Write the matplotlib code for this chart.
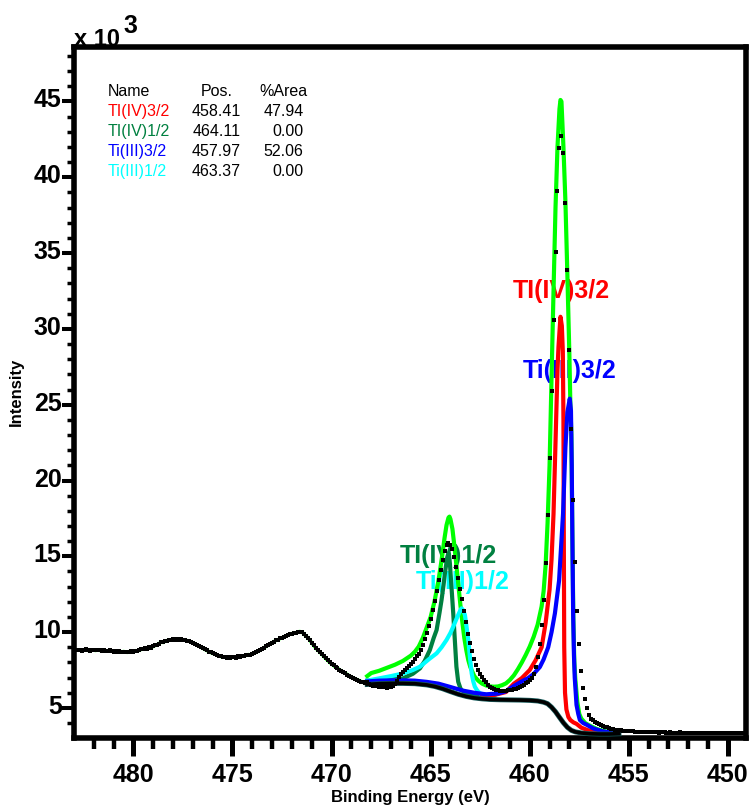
import numpy as np
import matplotlib
matplotlib.use("Agg")
import matplotlib.pyplot as plt
from matplotlib.ticker import MultipleLocator
import matplotlib.transforms as mtransforms

plt.rcParams['font.family'] = ['Liberation Sans', 'DejaVu Sans']

# measured Ti 2p spectrum, 0.1 eV steps from 482.9 down to 449.1 eV (counts x 1000)
be = np.round(np.arange(4829, 4490, -1) / 10.0, 1)
counts = np.array([
    8.85, 8.80, 8.84, 8.78, 8.82, 8.86, 8.80, 8.77, 8.83, 8.81,   # 482.9
    8.79, 8.84, 8.80, 8.76, 8.82, 8.78, 8.74, 8.80, 8.76, 8.72,   # 481.9
    8.75, 8.70, 8.74, 8.68, 8.72, 8.70, 8.66, 8.72, 8.76, 8.71,   # 480.9
    8.78, 8.74, 8.82, 8.86, 8.90, 8.96, 8.92, 9.04, 8.98, 9.06,   # 479.9
    9.12, 9.18, 9.24, 9.36, 9.32, 9.40, 9.44, 9.50, 9.46, 9.52,   # 478.9
    9.50, 9.54, 9.50, 9.52, 9.48, 9.50, 9.44, 9.40, 9.36, 9.30,   # 477.9
    9.24, 9.16, 9.10, 9.02, 8.94, 8.86, 8.80, 8.72, 8.66, 8.60,   # 476.9
    8.56, 8.50, 8.44, 8.40, 8.36, 8.38, 8.32, 8.36, 8.30, 8.34,   # 475.9
    8.36, 8.32, 8.40, 8.38, 8.44, 8.42, 8.48, 8.52, 8.50, 8.58,   # 474.9
    8.62, 8.68, 8.74, 8.82, 8.90, 8.98, 9.06, 9.14, 9.24, 9.30,   # 473.9
    9.38, 9.46, 9.50, 9.58, 9.62, 9.70, 9.74, 9.80, 9.86, 9.90,   # 472.9
    9.94, 9.96, 10.02, 10.04, 10.00, 9.90, 9.74, 9.64, 9.48, 9.30,  # 471.9
    9.12, 8.96, 8.82, 8.70, 8.56, 8.42, 8.28, 8.14, 8.02, 7.90,   # 470.9
    7.80, 7.70, 7.62, 7.52, 7.44, 7.36, 7.28, 7.20, 7.12, 7.04,   # 469.9
    6.98, 6.92, 6.86, 6.80, 6.74, 6.68, 6.62, 6.70, 6.58, 6.52,   # 468.9
    6.48, 6.46, 6.42, 6.40, 6.38, 6.36, 6.38, 6.34, 6.36, 6.35,   # 467.9
    6.42, 6.55, 6.80, 7.05, 7.25, 7.38, 7.50, 7.62, 7.75, 7.90,   # 466.9
    8.05, 8.22, 8.40, 8.58, 8.80, 9.15, 9.52, 9.96, 10.40, 10.88,  # 465.9
    11.46, 12.06, 12.70, 13.42, 14.10, 14.78, 15.36, 15.76, 15.90, 15.76,  # 464.9
    15.45, 14.95, 14.28, 13.55, 12.82, 12.18, 11.42, 10.64, 9.90, 9.28,    # 463.9
    8.74, 8.24, 7.82, 7.48, 7.22, 7.04, 6.86, 6.70, 6.52, 6.40,   # 462.9
    6.32, 6.24, 6.19, 6.16, 6.14, 6.13, 6.13, 6.14, 6.16, 6.18,   # 461.9
    6.20, 6.22, 6.25, 6.29, 6.36, 6.44, 6.53, 6.62, 6.72, 6.84,   # 460.9
    7.00, 7.25, 7.70, 8.35, 9.25, 10.45, 12.15, 14.55, 17.70, 21.50,  # 459.9
    25.90, 30.60, 35.10, 39.10, 41.90, 42.70, 41.60, 38.30, 33.90, 28.60,  # 458.9
    23.40, 18.70, 14.60, 11.40, 9.20, 7.43, 6.29, 5.57, 4.97, 4.53,  # 457.9
    4.30, 4.18, 4.08, 4.00, 3.94, 3.88, 3.82, 3.76, 3.72, 3.68,   # 456.9
    3.62, 3.60, 3.57, 3.56, 3.53, 3.52, 3.50, 3.48, 3.47, 3.46,   # 455.9
    3.45, 3.46, 3.44, 3.42, 3.44, 3.43, 3.41, 3.42, 3.40, 3.42,   # 454.9
    3.41, 3.39, 3.41, 3.40, 3.38, 3.40, 3.39, 3.41, 3.38, 3.37,   # 453.9
    3.39, 3.38, 3.36, 3.38, 3.37, 3.39, 3.36, 3.37, 3.35, 3.37,   # 452.9
    3.36, 3.38, 3.35, 3.36, 3.34, 3.37, 3.35, 3.36, 3.34, 3.36,   # 451.9
    3.35, 3.33, 3.36, 3.34, 3.35, 3.33, 3.36, 3.34, 3.35, 3.33,   # 450.9
    3.34, 3.36, 3.33, 3.35, 3.34, 3.32, 3.35, 3.33, 3.34,         # 449.9
])
assert len(be) == len(counts)

# Shirley background
bg_be = [468.2, 467.6, 467.0, 466.4, 465.8, 465.2, 464.8, 464.4, 464.0, 463.6,
         463.2, 462.8, 462.4, 462.0, 461.5, 461.0, 460.5, 460.0, 459.6, 459.3,
         459.1, 458.9, 458.7, 458.5, 458.3, 458.1, 457.9, 457.7, 457.4, 457.0,
         456.5, 456.0, 455.5]
bg_k = [6.55, 6.60, 6.62, 6.62, 6.60, 6.52, 6.42, 6.27, 6.08, 5.90,
        5.76, 5.66, 5.60, 5.56, 5.54, 5.53, 5.52, 5.50, 5.46, 5.38,
        5.28, 5.05, 4.75, 4.38, 4.02, 3.72, 3.52, 3.42, 3.35, 3.30,
        3.28, 3.28, 3.30]

# envelope
env_be = [468.2, 468.0, 467.6, 467.2, 466.8, 466.4, 466.0, 465.8, 465.6, 465.4,
          465.2, 465.0, 464.8, 464.6, 464.5, 464.4, 464.3, 464.2, 464.1, 464.05,
          464.0, 463.9, 463.8, 463.7, 463.6, 463.5, 463.4, 463.3, 463.2, 463.1,
          463.0, 462.8, 462.6, 462.4, 462.2, 462.0, 461.8, 461.6, 461.4, 461.2,
          461.0, 460.8, 460.6, 460.4, 460.2, 460.0, 459.8, 459.6, 459.4, 459.3,
          459.2, 459.1, 459.0, 458.9, 458.8, 458.7, 458.6, 458.5, 458.45, 458.4,
          458.3, 458.2, 458.1, 458.0, 457.95, 457.9, 457.85, 457.8, 457.75, 457.7,
          457.6, 457.5, 457.4, 457.2, 457.0, 456.6, 456.0, 455.5]
env_k = [7.10, 7.30, 7.45, 7.65, 7.85, 8.10, 8.45, 8.70, 9.05, 9.60,
         10.30, 11.00, 12.05, 13.45, 14.30, 15.20, 16.20, 17.05, 17.55, 17.62,
         17.45, 16.80, 15.65, 14.40, 13.10, 11.80, 10.65, 9.60, 8.80, 8.15,
         7.70, 7.10, 6.80, 6.60, 6.48, 6.42, 6.40, 6.42, 6.50, 6.62,
         6.85, 7.15, 7.55, 8.00, 8.50, 9.05, 9.70, 10.50, 11.70, 12.70,
         14.40, 17.20, 21.00, 26.80, 32.50, 38.00, 42.00, 44.50, 45.10, 45.00,
         42.00, 38.40, 33.50, 28.30, 25.00, 23.00, 16.50, 10.80, 8.00, 6.90,
         5.40, 4.60, 4.30, 4.00, 3.85, 3.60, 3.40, 3.35]

# Ti(IV) 2p3/2
r32_be = [462.4, 461.8, 461.2, 460.8, 460.4, 460.0, 459.7, 459.4, 459.2, 459.0,
          458.9, 458.8, 458.7, 458.6, 458.55, 458.45, 458.38, 458.33, 458.30, 458.28,
          458.26, 458.22, 458.15, 458.05, 457.95, 457.8, 457.64, 457.4, 457.0, 456.5]
r32_k = [5.80, 5.85, 6.05, 6.60, 6.97, 7.50, 8.15, 9.00, 10.60, 12.80,
         14.80, 17.80, 22.50, 27.30, 28.80, 30.80, 30.20, 28.50, 24.00, 16.00,
         9.00, 6.00, 4.90, 4.40, 4.20, 4.05, 3.95, 3.70, 3.50, 3.35]

# Ti(IV) 2p1/2
r12_be = [468.2, 467.5, 466.8, 466.4, 465.9, 465.54, 465.3, 465.04, 464.85, 464.7,
          464.55, 464.45, 464.35, 464.28, 464.2, 464.13, 464.08, 464.03, 463.95, 463.86,
          463.78, 463.7, 463.61, 463.5, 463.44, 463.2, 462.8, 462.3, 461.8]
r12_k = [6.80, 6.85, 6.90, 6.95, 7.25, 7.61, 8.10, 8.82, 9.60, 10.14,
         11.30, 12.12, 13.10, 13.88, 14.60, 15.10, 15.20, 14.54, 13.00, 11.24,
         9.48, 7.72, 6.73, 6.30, 6.18, 5.98, 5.85, 5.75, 5.70]

# Ti(III) 2p3/2
t32_be = [468.2, 467.6, 467.0, 466.4, 465.8, 465.2, 464.6, 464.0, 463.4, 462.8,
          462.2, 461.6, 461.2, 460.8, 460.4, 460.08, 459.8, 459.49, 459.3, 459.07,
          458.9, 458.73, 458.52, 458.32, 458.2, 458.1, 457.98, 457.92, 457.88, 457.86,
          457.81, 457.77, 457.73, 457.64, 457.55, 457.47, 457.3, 457.14, 456.8, 456.3,
          455.5]
t32_k = [6.75, 6.80, 6.82, 6.82, 6.80, 6.72, 6.60, 6.38, 6.15, 6.00,
         5.90, 5.95, 6.10, 6.45, 6.75, 6.97, 7.25, 7.70, 8.20, 9.00,
         10.00, 11.24, 13.40, 17.80, 22.20, 24.50, 25.40, 24.60, 21.00, 17.80,
         11.20, 8.50, 7.00, 5.20, 4.60, 4.20, 4.00, 3.90, 3.65, 3.45,
         3.32]

# Ti(III) 2p1/2
t12_be = [468.2, 467.6, 467.0, 466.38, 465.9, 465.54, 465.1, 464.7, 464.45, 464.2,
          464.0, 463.86, 463.72, 463.61, 463.5, 463.44, 463.36, 463.27, 463.19, 463.1,
          463.02, 462.93, 462.85, 462.77, 462.65, 462.52, 462.18, 461.8]
t12_k = [6.80, 6.95, 7.10, 7.28, 7.50, 7.72, 8.20, 8.60, 9.00, 9.48,
         9.95, 10.36, 10.80, 11.13, 11.45, 11.57, 11.45, 11.13, 10.36, 9.48,
         8.38, 7.28, 6.75, 6.40, 6.15, 5.96, 5.85, 5.80]

names = ["TI(IV)3/2", "TI(IV)1/2", "Ti(III)3/2", "Ti(III)1/2"]
positions = ["458.41", "464.11", "457.97", "463.37"]
areas = ["47.94", "0.00", "52.06", "0.00"]
colors = ["#ff0000", "#008040", "#0000ff", "#00ffff"]
# where each peak name is written on the plot (BE, counts x 1000)
label_be = [458.40, 464.11, 457.98, 463.36]
label_k = [32.5, 15.0, 27.2, 13.3]

fig = plt.figure(figsize=(7.51, 8.10), dpi=100)
ax = fig.add_axes([0.0992, 0.0895, 0.8941, 0.8528])

lw = 3.0
# outside the fit region the envelope just follows the data
left = be >= 468.2
ax.plot(be[left], counts[left], color="#00ff00", lw=2.5, zorder=2)
ax.plot(env_be, env_k, color="#00ff00", lw=lw, zorder=2)
ax.plot(r12_be, r12_k, color=colors[1], lw=lw, zorder=3)
ax.plot(t12_be, t12_k, color=colors[3], lw=lw, zorder=4)
ax.plot(r32_be, r32_k, color=colors[0], lw=lw, zorder=5)
ax.plot(t32_be, t32_k, color=colors[2], lw=lw, zorder=6)
ax.plot(bg_be, bg_k, color="#1a6060", lw=lw + 0.6, zorder=6.5)
ax.plot(bg_be, bg_k, color="black", lw=lw - 0.4, zorder=7)
ax.plot(be, counts, ls="none", marker="s", ms=3.0, mew=0, color="black", zorder=8)

for nm, c, x, y in zip(names, colors, label_be, label_k):
    ax.text(x, y, nm, color=c, fontsize=18, fontweight="bold",
            ha="center", va="center", zorder=1)

# little peak table
rows_y = [0.906, 0.877, 0.848, 0.819]
tkw = dict(transform=ax.transAxes, fontsize=11.5, va="center")
ax.text(0.049, 0.935, "Name", ha="left", **tkw)
ax.text(0.212, 0.935, "Pos.", ha="center", **tkw)
ax.text(0.347, 0.935, "%Area", ha="right", **tkw)
for nm, p, a, c, y in zip(names, positions, areas, colors, rows_y):
    ax.text(0.049, y, nm, ha="left", color=c, **tkw)
    ax.text(0.2475, y, p, ha="right", **tkw)
    ax.text(0.341, y, a, ha="right", **tkw)

ax.set_xlim(482.97, 449.09)
ax.set_ylim(3.05, 48.61)
ax.xaxis.set_major_locator(MultipleLocator(5))
ax.xaxis.set_minor_locator(MultipleLocator(1))
ax.yaxis.set_major_locator(MultipleLocator(5))
ax.yaxis.set_minor_locator(MultipleLocator(1))

for sp in ax.spines.values():
    sp.set_linewidth(4)
ax.tick_params(axis="x", which="major", direction="out", length=13.3, width=3.6,
               pad=5, labelsize=18)
ax.tick_params(axis="x", which="minor", direction="out", length=7.9, width=3.2)
ax.tick_params(axis="y", which="major", direction="out", length=8.5, width=2.9,
               pad=0.7, labelsize=18)
ax.tick_params(axis="y", which="minor", direction="out", length=5, width=2.5)
for lbl in ax.get_xticklabels() + ax.get_yticklabels():
    lbl.set_fontweight("bold")
for lbl in ax.get_yticklabels():
    lbl.set_transform(lbl.get_transform() +
                      mtransforms.ScaledTranslation(0, 2.5 / 72, fig.dpi_scale_trans))

ax.set_xlabel("Binding Energy (eV)", fontsize=12, fontweight="bold")
ax.xaxis.set_label_coords(0.5, -0.0766)
ax.set_ylabel("Intensity", fontsize=12, fontweight="bold")
ax.yaxis.set_label_coords(-0.0757, 0.5)

fig.text(74 / 751, 1 - 46 / 810, "x 10", fontsize=17, fontweight="bold",
         ha="left", va="baseline")
fig.text(123 / 751, 1 - 33 / 810, "3", fontsize=18, fontweight="bold",
         ha="left", va="baseline")

fig.savefig("out.png", dpi=100)
